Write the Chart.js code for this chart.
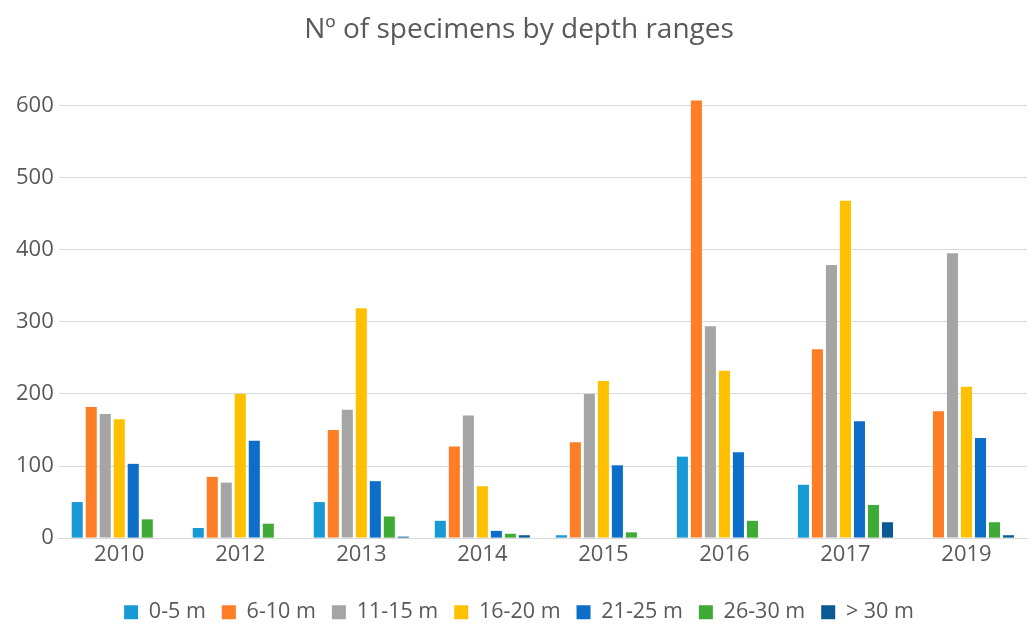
<!DOCTYPE html>
<html>
<head>
<meta charset="utf-8">
<script src="https://cdn.jsdelivr.net/npm/chart.js@4/dist/chart.umd.min.js"></script>
<style>
  html, body { margin: 0; padding: 0; background: #fff; }
  #wrap { width: 1033px; height: 626px; }
</style>
</head>
<body>
<div id="wrap"><canvas id="chart"></canvas></div>
<script>
// years on the x axis
const years = ["2010", "2012", "2013", "2014", "2015", "2016", "2017", "2019"];

// depth ranges (one series each)
const depth0to5   = [50, 14, 50, 24, 4, 113, 74, 0];
const depth6to10  = [182, 85, 150, 127, 133, 607, 262, 176];
const depth11to15 = [172, 77, 178, 170, 200, 294, 379, 395];
const depth16to20 = [165, 200, 319, 72, 218, 232, 468, 210];
const depth21to25 = [103, 135, 79, 10, 101, 119, 162, 139];
const depth26to30 = [26, 20, 30, 6, 8, 24, 46, 22];
const depthOver30 = [0, 0, 2, 4, 0, 0, 22, 4];

const yTicks = [0, 100, 200, 300, 400, 500, 600];

const series = [
    { label: "0-5 m",   data: depth0to5,   color: "#189ad6" },
    { label: "6-10 m",  data: depth6to10,  color: "#fe7e27" },
    { label: "11-15 m", data: depth11to15, color: "#a5a5a5" },
    { label: "16-20 m", data: depth16to20, color: "#ffc000" },
    { label: "21-25 m", data: depth21to25, color: "#0c6ec8" },
    { label: "26-30 m", data: depth26to30, color: "#3faa35" },
    { label: "> 30 m",  data: depthOver30, color: "#0b5a91" }
];

const textColor = "#595959";
const font = "'Open Sans', 'Noto Sans', sans-serif";

new Chart(document.getElementById("chart"), {
    type: "bar",
    data: {
        labels: years,
        datasets: series.map(s => ({
            label: s.label,
            data: s.data,
            backgroundColor: s.color,
            borderWidth: 0,
            categoryPercentage: 0.81,
            barPercentage: 0.79,
            clip: false
        }))
    },
    options: {
        responsive: true,
        maintainAspectRatio: false,
        animation: false,
        layout: { padding: { left: 11, right: 6, top: 0, bottom: -7 } },
        plugins: {
            title: {
                display: true,
                text: "Nº of specimens by depth ranges",
                color: textColor,
                font: { family: font, size: 28, weight: "normal" },
                padding: { top: 13, bottom: 59 }
            },
            legend: {
                position: "bottom",
                labels: {
                    color: textColor,
                    font: { family: font, size: 21.5 },
                    boxWidth: 14,
                    boxHeight: 14,
                    padding: 16
                }
            },
            tooltip: { enabled: false }
        },
        scales: {
            x: {
                grid: { display: false, drawTicks: false },
                border: { color: "#d9d9d9", width: 1 },
                ticks: {
                    color: textColor,
                    font: { family: font, size: 22 },
                    padding: 3
                },
                afterFit: axis => { axis.height += 15; }
            },
            y: {
                min: 0,
                max: 600,
                afterBuildTicks: axis => {
                    axis.ticks = yTicks.map(v => ({ value: v }));
                },
                grid: { color: "#d9d9d9", lineWidth: 1, drawTicks: false },
                border: { display: false },
                ticks: {
                    color: textColor,
                    font: { family: font, size: 22 },
                    padding: 5
                }
            }
        }
    }
});
</script>
</body>
</html>
